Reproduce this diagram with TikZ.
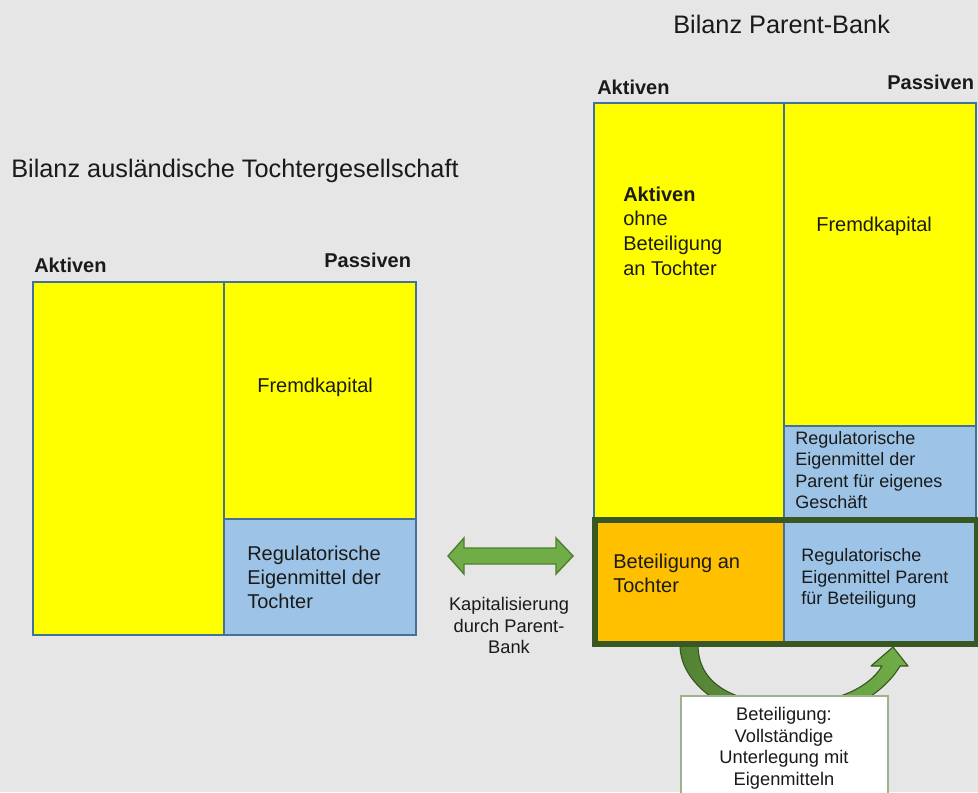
\documentclass[tikz,border=0pt]{standalone}
\usepackage{fontspec}
\setmainfont{Liberation Sans}
\usetikzlibrary{fit}
\definecolor{bgc}{HTML}{E6E6E6}
\definecolor{yel}{HTML}{FFFF00}
\definecolor{blu}{HTML}{9DC3E6}
\definecolor{ora}{HTML}{FFC000}
\definecolor{edg}{HTML}{41719C}
\definecolor{dgreen}{HTML}{385723}
\definecolor{mgreen}{HTML}{548235}
\definecolor{lgreen}{HTML}{70AD47}
\definecolor{agreen}{HTML}{507E32}
\definecolor{wbord}{HTML}{9DB38F}
\definecolor{txt}{HTML}{1A1A1A}
\newcommand{\fsBig}{\fontsize{18pt}{21pt}\selectfont}
\newcommand{\fsMid}{\fontsize{14.23pt}{17.07pt}\selectfont}
\newcommand{\fsMidB}{\fontsize{14.23pt}{17.57pt}\selectfont}
\newcommand{\fsSmA}{\fontsize{12.8pt}{15.25pt}\selectfont}
\newcommand{\fsSmB}{\fontsize{12.8pt}{15.45pt}\selectfont}
\newcommand{\fsSmC}{\fontsize{13pt}{15.5pt}\selectfont}
\newcommand{\tp}{\rule{0pt}{12pt}}
\begin{document}
\begin{tikzpicture}[x=0.025cm,y=-0.025cm,
  box/.style={draw=edg, line width=1.2pt, inner sep=0pt},
  one/.style={anchor=base west, inner sep=0pt, text=txt},
  blk/.style={anchor=north west, inner sep=0pt, align=left, yshift=12pt, text=txt},
  cblk/.style={anchor=north, inner sep=0pt, align=center, yshift=12pt, text=txt}]
\useasboundingbox (0,0) rectangle (978,792);
\fill[bgc] (0,0) rectangle (978,792);

% left balance
\node[box, fill=yel, fit={(33,282) (224,635)}] (lakt) {};
\node[box, fill=yel, fit={(224,282) (416,519)}] (lfk) {};
\node[box, fill=blu, fit={(224,519) (416,635)}] (lreg) {};

% right balance
\node[box, fill=yel, fit={(594,103) (784,520)}] (rakt) {};
\node[box, fill=yel, fit={(784,103) (976,426)}] (rfk) {};
\node[box, fill=blu, fit={(784,426) (976,520)}] (rreg) {};
\node[box, fill=ora, fit={(595,520) (784,644)}] (rbet) {};
\node[box, fill=blu, fit={(784,520) (977,644)}] (rregb) {};

% curved arrow
\path[left color=mgreen, right color=lgreen, draw=dgreen, line width=0.8pt, line join=round]
  (680,645) .. controls (680,690) and (740,722) .. (790,722)
  .. controls (830,722) and (880,700) .. (900,666)
  -- (908,666) -- (893,647) -- (871,666) -- (882,666)
  .. controls (868,690) and (830,704) .. (790,704)
  .. controls (745,704) and (698,690) .. (698,645) -- cycle;

% green frame
\node[draw=dgreen, line width=4.27pt, inner sep=0pt, fit={(595,520) (977,644)}] (frame) {};

% double arrow
\path[fill=lgreen, draw=agreen, line width=1pt, line join=miter]
  (448,556) -- (464,538) -- (464,548) -- (556,548) -- (556,538) -- (573,556)
  -- (556,574) -- (556,564) -- (464,564) -- (464,574) -- cycle;

% white note box
\node[draw=wbord, fill=white, line width=0.8pt, inner sep=0pt, fit={(681,696) (888,815)}] (note) {};

% texts
\node[one, font=\fsBig] (t1) at (11,177) {Bilanz ausländische Tochtergesellschaft};
\node[one, font=\fsBig] (t2) at (673,33) {Bilanz Parent-Bank};
\node[one, font=\fsMid\bfseries] (la) at (34,272) {Aktiven};
\node[one, font=\fsMid\bfseries] (lp) at (324,267) {Passiven};
\node[one, font=\fsMid\bfseries] (ra) at (597,94) {Aktiven};
\node[one, font=\fsMid\bfseries] (rp) at (887,89) {Passiven};
\node[one, font=\fsMid] (lfkt) at (257,392) {Fremdkapital};
\node[one, font=\fsMid] (rfkt) at (816,231) {Fremdkapital};
\node[blk, font=\fsMid] (lregt) at (247,560) {\tp Regulatorische\\Eigenmittel der\\Tochter};
\node[blk, font=\fsMidB] (raktt) at (623,201) {\tp\textbf{Aktiven}\\ohne\\Beteiligung\\an Tochter};
\node[blk, font=\fsSmA] (rregt) at (795,444) {\tp Regulatorische\\Eigenmittel der\\Parent für eigenes\\Geschäft};
\node[blk, font=\fsMid] (rbett) at (613,568) {\tp Beteiligung an\\Tochter};
\node[blk, font=\fsSmB] (rregbt) at (801,561) {\tp Regulatorische\\Eigenmittel Parent\\für Beteiligung};
\node[cblk, font=\fsSmC] (kap) at (509,610) {\tp Kapitalisierung\\durch Parent-\\Bank};
\node[cblk, font=\fsSmC] (notet) at (784,720) {\tp Beteiligung:\\Vollständige\\Unterlegung mit\\Eigenmitteln};
\end{tikzpicture}
\end{document}
